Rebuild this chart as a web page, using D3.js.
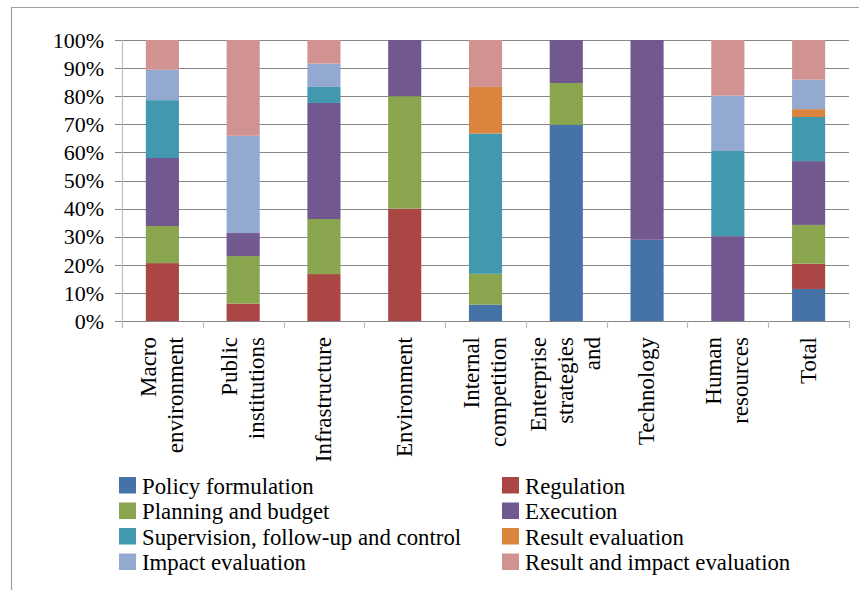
<!DOCTYPE html>
<html>
<head>
<meta charset="utf-8">
<script src="https://cdn.jsdelivr.net/npm/d3@7"></script>
<style>
  html, body { margin: 0; padding: 0; background: #fff; }
  svg { display: block; }
</style>
</head>
<body>
<svg id="chart" width="859" height="590"></svg>
<script>
// Categories (label lines) and tick labels
const categories = [
  ["Macro", "environment"],
  ["Public", "institutions"],
  ["Infrastructure"],
  ["Environment"],
  ["Internal", "competition"],
  ["Enterprise", "strategies", "and"],
  ["Technology"],
  ["Human", "resources"],
  ["Total"]
];
const yTicks = [0, 10, 20, 30, 40, 50, 60, 70, 80, 90, 100];

// Share (%) of each function per category, bottom to top
const policyFormulation   = [0,    0,    0,    0,    5.8,  69.8, 28.9, 0,    11.4];
const regulation          = [20.6, 6.2,  16.7, 40,   0,    0,    0,    0,    9.0];
const planningBudget      = [13.2, 16.9, 19.6, 40,   11.0, 14.9, 0,    0,    13.8];
const execution           = [24.2, 8.2,  41.3, 20,   0,    15.3, 71.1, 30.2, 22.7];
const supervision         = [20.6, 0,    5.7,  0,    49.9, 0,    0,    30.3, 15.7];
const resultEvaluation    = [0,    0,    0,    0,    16.6, 0,    0,    0,    2.8];
const impactEvaluation    = [10.8, 34.6, 8.3,  0,    0,    0,    0,    19.7, 10.5];
const resultImpactEval    = [10.6, 34.1, 8.4,  0,    16.7, 0,    0,    19.8, 14.1];

const seriesNames = [
  "Policy formulation", "Regulation", "Planning and budget", "Execution",
  "Supervision, follow-up and control", "Result evaluation",
  "Impact evaluation", "Result and impact evaluation"
];
const seriesValues = [
  policyFormulation, regulation, planningBudget, execution,
  supervision, resultEvaluation, impactEvaluation, resultImpactEval
];
const seriesColors = [
  "#4572A7", "#AA4643", "#89A54E", "#71588F",
  "#4198AF", "#DB843D", "#93A9CF", "#D19392"
];

const FONT = "'Liberation Serif'";

// Row table for d3.stack
const rows = categories.map((c, i) => {
  const r = { key: i };
  seriesNames.forEach((s, j) => { r[s] = seriesValues[j][i]; });
  return r;
});

const svg = d3.select("#chart");

// Outer frame of the chart object
svg.append("path")
  .attr("d", "M11.5,590 V7.5 H859")
  .attr("fill", "none")
  .attr("stroke", "#a0a0a0")
  .attr("stroke-width", 1.2);

const plot = { left: 122, right: 849, top: 40, bottom: 321 };

const x = d3.scaleBand()
  .domain(d3.range(categories.length))
  .range([plot.left, plot.right])
  .padding(0);

const y = d3.scaleLinear()
  .domain([0, 100])
  .range([plot.bottom, plot.top]);

// Horizontal gridlines with outside ticks
svg.append("g")
  .selectAll("line")
  .data(yTicks)
  .join("line")
  .attr("x1", plot.left - 7)
  .attr("x2", plot.right)
  .attr("y1", d => Math.round(y(d)) + 0.5)
  .attr("y2", d => Math.round(y(d)) + 0.5)
  .attr("stroke", "#868686")
  .attr("stroke-width", 1.2);

// Y tick labels
svg.append("g")
  .selectAll("text")
  .data(yTicks)
  .join("text")
  .attr("x", 104)
  .attr("y", d => y(d))
  .attr("dy", "0.35em")
  .attr("text-anchor", "end")
  .style("font-family", FONT)
  .style("font-size", "22px")
  .style("fill", "#000")
  .text(d => d + "%");

// Stacked bars
const stack = d3.stack().keys(seriesNames);
const stacked = stack(rows);
const barW = x.bandwidth() * 0.41;

svg.append("g")
  .selectAll("g")
  .data(stacked)
  .join("g")
  .attr("fill", (d, i) => seriesColors[i])
  .selectAll("rect")
  .data(d => d.filter(p => p[1] - p[0] > 0))
  .join("rect")
  .attr("x", d => x(d.data.key) + (x.bandwidth() - barW) / 2)
  .attr("width", barW)
  .attr("y", d => y(d[1]))
  .attr("height", d => y(d[0]) - y(d[1]));

// Vertical axis line
svg.append("line")
  .attr("x1", plot.left + 0.5).attr("x2", plot.left + 0.5)
  .attr("y1", plot.top).attr("y2", plot.bottom + 7)
  .attr("stroke", "#bdbdbd")
  .attr("stroke-width", 1.2);

// Category axis baseline and ticks between categories
svg.append("line")
  .attr("x1", plot.left).attr("x2", plot.right)
  .attr("y1", plot.bottom + 0.5).attr("y2", plot.bottom + 0.5)
  .attr("stroke", "#868686")
  .attr("stroke-width", 1.2);

const tickXs = d3.range(categories.length + 1).map(i =>
  i < categories.length ? x(i) : plot.right);
svg.append("g")
  .selectAll("line")
  .data(tickXs)
  .join("line")
  .attr("x1", d => Math.round(d) + 0.5)
  .attr("x2", d => Math.round(d) + 0.5)
  .attr("y1", plot.bottom)
  .attr("y2", plot.bottom + 7)
  .attr("stroke", "#bdbdbd")
  .attr("stroke-width", 1.2);

// Rotated category labels, multi-line, right-aligned against the axis
const lineGap = 27;
const labelTop = 337;
const labels = svg.append("g")
  .selectAll("text")
  .data(categories)
  .join("text")
  .attr("text-anchor", "end")
  .style("font-family", FONT)
  .style("font-size", "23px")
  .style("fill", "#000")
  .attr("transform", (d, i) => {
    const cx = x(i) + x.bandwidth() / 2;
    return `translate(${cx},${labelTop}) rotate(-90)`;
  });

labels.selectAll("tspan")
  .data(d => d.map((t, k) => ({ t, k, n: d.length })))
  .join("tspan")
  .attr("x", 0)
  .attr("y", d => 7 + (d.k - (d.n - 1) / 2) * lineGap)
  .text(d => d.t);

// Legend: two columns, four rows
const legend = svg.append("g");
const legendItems = legend.selectAll("g")
  .data(seriesNames)
  .join("g")
  .attr("transform", (d, i) => {
    const col = i % 2, row = Math.floor(i / 2);
    return `translate(${col === 0 ? 119 : 502},${477 + row * 25.5})`;
  });

legendItems.append("rect")
  .attr("width", 17)
  .attr("height", 16.5)
  .attr("fill", (d, i) => seriesColors[i]);

legendItems.append("text")
  .attr("x", 23)
  .attr("y", 16.5)
  .style("font-family", FONT)
  .style("font-size", "22.8px")
  .style("fill", "#000")
  .text(d => d);
</script>
</body>
</html>
